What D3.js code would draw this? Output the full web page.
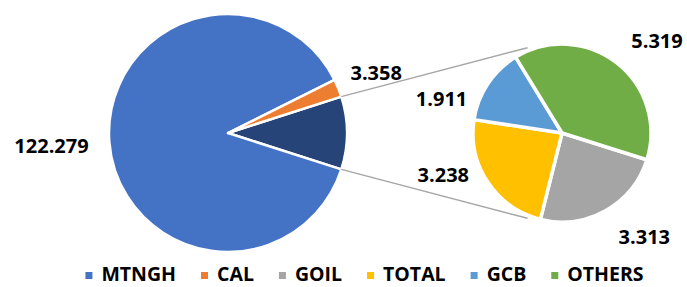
<!DOCTYPE html>
<html>
<head>
<meta charset="utf-8">
<script src="https://cdn.jsdelivr.net/npm/d3@7"></script>
<style>
  body { margin: 0; background: #fff; }
  svg { display: block; font-family: "Open Sans", "Liberation Sans", sans-serif; font-weight: bold; }
</style>
</head>
<body>
<svg width="687" height="287"></svg>
<script>
// main pie: the first entry is the grouped slice that opens into the small pie
const mainNames  = ["OTHER", "MTNGH", "CAL"];
const mainValues = [13.781, 122.279, 3.358];

// small pie (breakdown of the grouped slice)
const subNames  = ["GOIL", "TOTAL", "GCB", "OTHERS"];
const subValues = [3.313, 3.238, 1.911, 5.319];

const legendNames = ["MTNGH", "CAL", "GOIL", "TOTAL", "GCB", "OTHERS"];
const labelText = {MTNGH: "122.279", CAL: "3.358", GOIL: "3.313", TOTAL: "3.238", GCB: "1.911", OTHERS: "5.319"};

const color = d3.scaleOrdinal()
    .domain(["MTNGH", "CAL", "GOIL", "TOTAL", "GCB", "OTHERS", "OTHER"])
    .range(["#4472C4", "#ED7D31", "#A5A5A5", "#FFC000", "#5B9BD5", "#70AD47", "#264478"]);

const svg = d3.select("svg");
const rad = d => d * Math.PI / 180;

// ---- main pie
const mainC = {x: 228, y: 133}, mainR = 119;
const otherFrac = mainValues[0] / d3.sum(mainValues);
const mainStart = Math.PI / 2 - otherFrac * Math.PI;   // grouped slice centred on the right

const mainPie = d3.pie().sort(null).startAngle(mainStart).endAngle(mainStart + 2 * Math.PI);
const mainArcs = mainPie(mainValues).map((a, i) => Object.assign(a, {name: mainNames[i]}));
const mainArc = d3.arc().innerRadius(0).outerRadius(mainR);

const gMain = svg.append("g").attr("transform", `translate(${mainC.x},${mainC.y})`);
gMain.selectAll("path").data(mainArcs).join("path")
    .attr("d", mainArc)
    .attr("fill", d => color(d.name))
    .attr("stroke", "#fff")
    .attr("stroke-width", 2.5)
    .attr("stroke-linejoin", "round");

// ---- secondary pie
const subC = {x: 562, y: 133}, subR = 89;
const subStart = rad(107.5);
const subPie = d3.pie().sort(null).startAngle(subStart).endAngle(subStart + 2 * Math.PI);
const subArcs = subPie(subValues).map((a, i) => Object.assign(a, {name: subNames[i]}));
const subArc = d3.arc().innerRadius(0).outerRadius(subR);

// connector lines from the grouped slice to the small pie
const other = mainArcs[0];
const pt = (c, r, a) => [c.x + r * Math.sin(a), c.y - r * Math.cos(a)];
const connectors = [
    [pt(mainC, mainR, other.startAngle), pt(subC, subR + 3, rad(-22))],
    [pt(mainC, mainR, other.endAngle), pt(subC, subR + 3, rad(202))]
];
svg.selectAll("line.conn").data(connectors).join("line")
    .attr("class", "conn")
    .attr("x1", d => d[0][0]).attr("y1", d => d[0][1])
    .attr("x2", d => d[1][0]).attr("y2", d => d[1][1])
    .attr("stroke", "#A6A6A6")
    .attr("stroke-width", 1.5);

const gSub = svg.append("g").attr("transform", `translate(${subC.x},${subC.y})`);
gSub.selectAll("path").data(subArcs).join("path")
    .attr("d", subArc)
    .attr("fill", d => color(d.name))
    .attr("stroke", "#fff")
    .attr("stroke-width", 3.5)
    .attr("stroke-linejoin", "round");

// ---- data labels (best-fit style: nudged angle + radius per slice)
const labelPlace = {
    MTNGH: {da: 0, r: 177}, CAL: {da: 0, r: 160},
    GOIL: {da: -9, r: 133}, TOTAL: {da: 14, r: 126},
    GCB: {da: -18, r: 125}, OTHERS: {da: 8, r: 132}
};
function addLabels(arcs, c) {
    arcs.filter(d => labelText[d.name]).forEach(d => {
        const p = labelPlace[d.name];
        const a = (d.startAngle + d.endAngle) / 2 + rad(p.da);
        const [x, y] = pt(c, p.r, a);
        svg.append("text")
            .attr("x", x).attr("y", y + 7)
            .attr("text-anchor", "middle")
            .attr("font-size", 20)
            .attr("fill", "#000")
            .text(labelText[d.name]);
    });
}
addLabels(mainArcs, mainC);
addLabels(subArcs, subC);

// ---- legend
const legend = svg.append("g");
let lx = 0;
legendNames.forEach(n => {
    const it = legend.append("g").attr("transform", `translate(${lx},0)`);
    it.append("rect").attr("x", 0).attr("y", -9).attr("width", 7).attr("height", 7).attr("fill", color(n));
    const t = it.append("text").attr("x", 16).attr("y", 0).attr("font-size", 19.5).attr("fill", "#000").text(n);
    lx += 16 + t.node().getComputedTextLength() + 25;
});
const legW = lx - 25;
legend.attr("transform", `translate(${(77 + 652) / 2 - legW / 2},281)`);
</script>
</body>
</html>
